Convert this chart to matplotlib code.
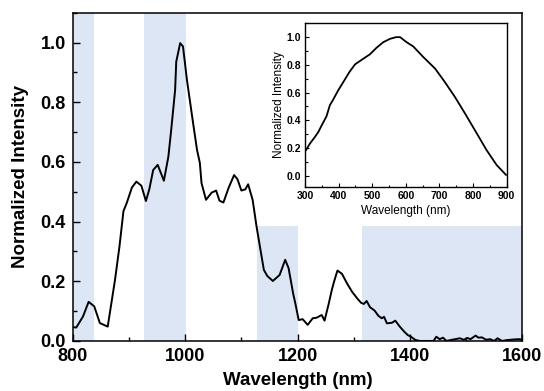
import matplotlib
matplotlib.use("Agg")
import matplotlib.pyplot as plt
from matplotlib.ticker import MultipleLocator

plt.rcParams['font.family'] = ['Liberation Sans', 'DejaVu Sans']

# main emission spectrum
wl = [801, 806, 818, 828, 838, 848, 862, 875, 883, 890, 896, 905, 913, 922, 930, 936,
      943, 951, 962, 970, 975, 982, 984, 991, 996, 1003, 1014, 1021, 1026, 1029, 1037,
      1047, 1055, 1061, 1068, 1077, 1087, 1093, 1100, 1107, 1112, 1120, 1127, 1133,
      1140, 1146, 1156, 1168, 1178, 1184, 1192, 1196, 1202, 1209, 1218, 1227, 1234,
      1243, 1248, 1255, 1261, 1265, 1271, 1279, 1288, 1297, 1306, 1313, 1318, 1323,
      1329, 1337, 1344, 1350, 1354, 1359, 1368, 1374, 1382, 1390, 1396, 1402, 1410,
      1418, 1430, 1442, 1447, 1453, 1459, 1465, 1475, 1481, 1489, 1496, 1502, 1508,
      1517, 1522, 1528, 1536, 1543, 1550, 1556, 1564, 1573, 1585, 1594, 1598]
intensity = [0.046, 0.045, 0.082, 0.131, 0.116, 0.060, 0.048, 0.205, 0.318, 0.435, 0.463,
             0.514, 0.534, 0.520, 0.469, 0.508, 0.573, 0.590, 0.537, 0.618, 0.707, 0.841,
             0.936, 0.998, 0.987, 0.875, 0.730, 0.640, 0.597, 0.529, 0.473, 0.497, 0.504,
             0.470, 0.464, 0.512, 0.556, 0.542, 0.504, 0.508, 0.525, 0.473, 0.383, 0.316,
             0.238, 0.218, 0.201, 0.221, 0.272, 0.244, 0.160, 0.126, 0.070, 0.073, 0.054,
             0.076, 0.078, 0.087, 0.068, 0.121, 0.171, 0.199, 0.236, 0.225, 0.193, 0.165,
             0.143, 0.128, 0.124, 0.134, 0.113, 0.102, 0.084, 0.076, 0.081, 0.059, 0.061,
             0.068, 0.048, 0.031, 0.020, 0.014, 0.003, 0.0, 0.0, 0.0, 0.014, 0.006, 0.011,
             0.0, 0.004, 0.006, 0.009, 0.004, 0.010, 0.006, 0.018, 0.011, 0.012, 0.004,
             0.006, 0.0, 0.009, 0.0, 0.003, 0.005, 0.006, 0.005]

# shaded windows: (start, end, top)
bands = [(800, 838, 1.1), (926, 1001, 1.1), (1128, 1201, 0.385), (1315, 1600, 0.385)]

# inset spectrum
wl_in = [303, 315, 330, 340, 350, 364, 374, 384, 399, 414, 432, 449, 469, 493, 513, 533,
         553, 571, 583, 602, 622, 652, 687, 716, 746, 776, 811, 840, 870, 898]
int_in = [0.185, 0.233, 0.281, 0.317, 0.365, 0.429, 0.509, 0.550, 0.617, 0.676, 0.748,
          0.804, 0.837, 0.876, 0.924, 0.964, 0.988, 1.0, 1.0, 0.964, 0.933, 0.856, 0.773,
          0.676, 0.568, 0.449, 0.305, 0.185, 0.077, 0.005]

band_color = '#dce6f4'

fig = plt.figure(figsize=(5.44, 3.91), dpi=100)
ax = fig.add_axes([0.134, 0.128, 0.826, 0.8395])

for x0, x1, top in bands:
    ax.fill_between([x0, x1], 0, top, color=band_color, linewidth=0, zorder=0)

ax.plot(wl, intensity, color='black', linewidth=1.4, zorder=2)
ax.set_xlim(800, 1600)
ax.set_ylim(0, 1.1)
ax.xaxis.set_major_locator(MultipleLocator(200))
ax.xaxis.set_minor_locator(MultipleLocator(100))
ax.yaxis.set_major_locator(MultipleLocator(0.2))
ax.yaxis.set_minor_locator(MultipleLocator(0.1))
ax.yaxis.set_major_formatter(plt.FormatStrFormatter('%.1f'))
ax.tick_params(which='both', direction='in', top=False, right=False, width=1.0)
ax.tick_params(which='major', length=5, labelsize=13, pad=5)
ax.tick_params(which='minor', length=3)
for lab in ax.get_xticklabels() + ax.get_yticklabels():
    lab.set_fontweight('bold')
for s in ax.spines.values():
    s.set_linewidth(1.1)
ax.set_xlabel('Wavelength (nm)', fontsize=13.5, fontweight='bold', labelpad=5)
ax.set_ylabel('Normalized Intensity', fontsize=13.5, fontweight='bold', labelpad=8)

axin = fig.add_axes([0.5607, 0.5225, 0.3707, 0.4179])
axin.plot(wl_in, int_in, color='black', linewidth=1.3)
axin.set_xlim(300, 900)
axin.set_ylim(-0.08, 1.1)
axin.xaxis.set_major_locator(MultipleLocator(100))
axin.xaxis.set_minor_locator(MultipleLocator(50))
axin.yaxis.set_major_locator(MultipleLocator(0.2))
axin.yaxis.set_minor_locator(MultipleLocator(0.1))
axin.yaxis.set_major_formatter(plt.FormatStrFormatter('%.1f'))
axin.tick_params(which='both', direction='in', top=False, right=False, width=0.8)
axin.tick_params(which='major', length=3, labelsize=7.5, pad=3)
axin.tick_params(which='minor', length=1.8)
for lab in axin.get_xticklabels() + axin.get_yticklabels():
    lab.set_fontweight('bold')
for s in axin.spines.values():
    s.set_linewidth(1.0)
axin.set_xlabel('Wavelength (nm)', fontsize=8.5, labelpad=3)
axin.set_ylabel('Normalized Intensity', fontsize=8.5, labelpad=1)

fig.savefig('out.png', dpi=100)
